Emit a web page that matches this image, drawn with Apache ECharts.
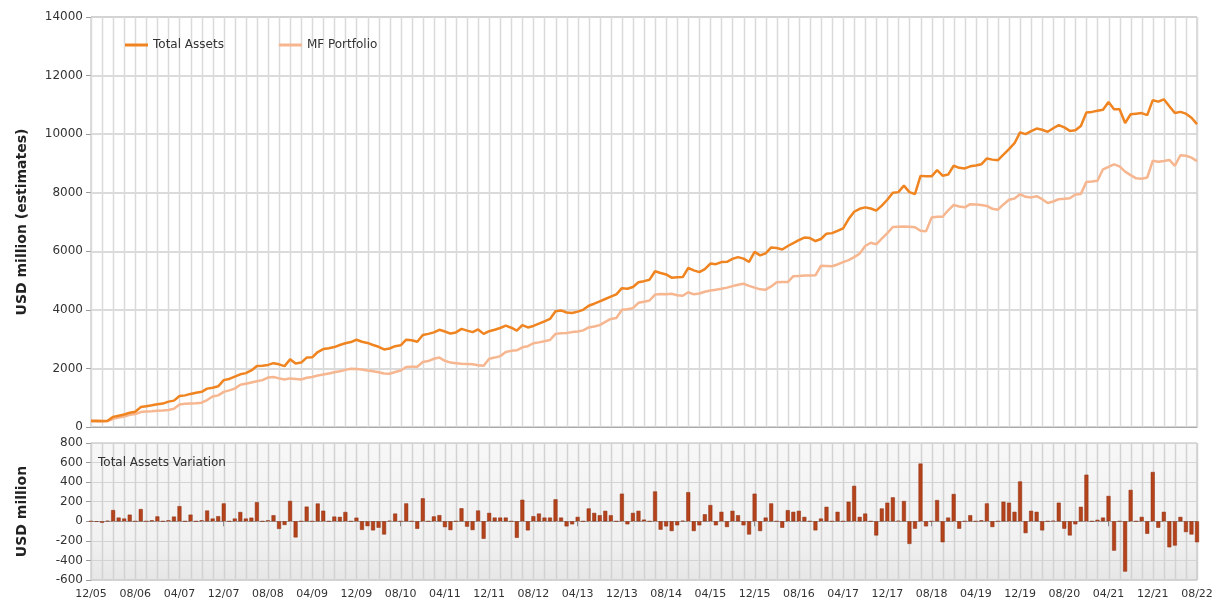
<!DOCTYPE html>
<html>
<head>
<meta charset="utf-8">
<script src="https://cdn.jsdelivr.net/npm/echarts@6/dist/echarts.min.js"></script>
<style>
  html, body { margin: 0; background: #fff; }
  #chart { width: 1220px; height: 606px; }
</style>
</head>
<body>
<div id="chart"></div>
<script>
// monthly, 12/05 .. 08/22
const months = [];
for (let y = 2005, m = 12; ; m++) {
  if (m > 12) { m = 1; y++; }
  if (y === 2022 && m > 8) break;
  months.push(String(m).padStart(2, '0') + '/' + String(y).slice(2));
}

const totalAssets = [
  210, 215, 205, 215, 345, 385, 425, 490, 520, 680,
  710, 740, 775, 800, 866, 900, 1060, 1080, 1130, 1170,
  1200, 1310, 1340, 1390, 1600, 1640, 1720, 1800, 1840, 1930,
  2080, 2090, 2120, 2180, 2140, 2080, 2310, 2170, 2200, 2370,
  2380, 2560, 2660, 2690, 2730, 2800, 2860, 2900, 2980, 2910,
  2870, 2800, 2740, 2650, 2680, 2760, 2790, 2980, 2960, 2910,
  3140, 3180, 3230, 3320, 3260, 3190, 3230, 3350, 3290, 3240,
  3330, 3180, 3270, 3320, 3380, 3460, 3390, 3290, 3480, 3400,
  3450, 3530, 3610, 3690, 3950, 3980, 3910, 3890, 3940, 4000,
  4140, 4210, 4290, 4370, 4450, 4530, 4740, 4720, 4780, 4940,
  4980, 5030, 5320, 5260, 5210, 5100, 5110, 5120, 5430, 5350,
  5290, 5390, 5580, 5560, 5630, 5640, 5740, 5800, 5750, 5640,
  5980, 5860, 5930, 6130, 6110, 6060, 6180, 6280, 6380, 6470,
  6450, 6350, 6420, 6600, 6620, 6700, 6780, 7100, 7350, 7450,
  7500, 7460, 7390, 7560, 7760, 8000, 8020, 8240, 8020, 7950,
  8575, 8560, 8560, 8770, 8580, 8620, 8920, 8850, 8830, 8900,
  8930, 8970, 9170, 9130, 9110, 9300, 9490, 9690, 10060, 10000,
  10100, 10190, 10150, 10080, 10200, 10310, 10230, 10110, 10130, 10280,
  10740, 10760, 10800, 10830, 11100, 10850, 10850, 10380, 10680, 10700,
  10720, 10650, 11160, 11110, 11190, 10950, 10720, 10760, 10700, 10560, 10340
];

const mfPortfolio = [
  190, 195, 190, 200, 280, 320, 360, 420, 440, 510,
  530, 540, 555, 565, 580, 620, 770, 790, 800, 810,
  830, 920, 1040, 1080, 1200, 1250, 1310, 1440, 1480, 1520,
  1560, 1600, 1690, 1710, 1660, 1620, 1660, 1640, 1620, 1680,
  1710, 1760, 1790, 1830, 1870, 1900, 1950, 1990, 1980, 1960,
  1930, 1900, 1870, 1830, 1820, 1880, 1930, 2050, 2060, 2060,
  2220, 2250, 2330, 2370, 2260, 2200, 2180, 2160, 2150, 2140,
  2110, 2090, 2330, 2370, 2420, 2560, 2600, 2620, 2720, 2760,
  2860, 2890, 2930, 2970, 3180, 3200, 3210, 3240, 3260, 3300,
  3400, 3430, 3480, 3590, 3690, 3720, 4000, 4020, 4060, 4240,
  4280, 4320, 4520, 4540, 4530, 4550, 4500, 4480, 4600, 4530,
  4560, 4620, 4660, 4690, 4720, 4760, 4810, 4860, 4890, 4820,
  4760, 4700, 4690, 4800, 4940, 4950, 4950, 5150, 5160, 5170,
  5170, 5180, 5510, 5500, 5490, 5550, 5630, 5700, 5800, 5920,
  6180, 6290, 6240, 6430, 6620, 6830, 6840, 6850, 6840, 6820,
  6700, 6680, 7150, 7180, 7180, 7400, 7580, 7530, 7500, 7610,
  7600, 7580, 7550, 7450, 7420, 7600, 7760, 7800, 7950, 7860,
  7840, 7880, 7780, 7650, 7700, 7780, 7790, 7810, 7940, 7960,
  8370, 8380, 8410, 8800, 8880, 8970, 8900, 8720, 8600, 8490,
  8480, 8520, 9090, 9060, 9080, 9120, 8920, 9280, 9260, 9200, 9080
];

const variation = [
  0, -5, -15, 5, 115, 38, 28, 68, 0, 125,
  0, 10, 50, 0, 10, 48, 155, 0, 68, 0,
  10, 110, 28, 52, 183, 0, 28, 95, 28, 37,
  195, 0, 10, 62, -78, -38, 208, -165, 0, 150,
  0, 182, 108, 0, 48, 45, 95, 0, 37, -88,
  -50, -93, -66, -135, 5, 79, 0, 183, 0, -77,
  235, 0, 50, 63, -60, -90, 0, 133, -55, -90,
  110, -179, 86, 38, 38, 38, 0, -169, 220, -93,
  52, 79, 38, 38, 225, 38, -52, -31, 45, 0,
  131, 86, 62, 107, 62, 0, 282, -31, 86, 107,
  17, 0, 305, -86, -52, -100, -41, 5, 298, -100,
  -41, 72, 166, -41, 97, -59, 107, 62, -41, -135,
  282, -100, 38, 183, 0, -66, 114, 97, 107, 45,
  0, -93, 28, 148, 0, 97, 0, 200, 362, 45,
  79, 0, -145, 131, 190, 245, 5, 207, -231, -76,
  590, -52, 0, 217, -214, 38, 279, -76, 0, 62,
  0, 10, 183, -59, 0, 200, 190, 97, 407, -121,
  107, 97, -93, 0, 5, 190, -76, -145, -31, 148,
  476, 0, 15, 38, 259, -300, 0, -514, 321, 0,
  45, -128, 504, -66, 97, -266, -248, 45, -110, -135, -214
];

const font = 'DejaVu Sans';
const chart = echarts.init(document.getElementById('chart'), null, { renderer: 'canvas' });

// vertical grid every 2 months, drawn as a custom series behind the data
const gridMonths = months.map((m, i) => [i, 0]).filter(d => d[0] % 2 === 0);
function monthLines(axisIndex, color) {
  return {
    type: 'custom', xAxisIndex: axisIndex, yAxisIndex: axisIndex, z: 1, silent: true,
    data: gridMonths, clip: false,
    encode: { x: 0, y: 1 },
    renderItem: (params, api) => {
      const cs = params.coordSys;
      const x = Math.round(api.coord([api.value(0), 0])[0]) + 0.5;
      return {
        type: 'line', silent: true,
        shape: { x1: x, y1: cs.y, x2: x, y2: cs.y + cs.height },
        style: { stroke: color, lineWidth: 1.5 }
      };
    }
  };
}

chart.setOption({
  animation: false,
  backgroundColor: '#fff',
  textStyle: { fontFamily: font },
  title: {
    text: 'Total Assets Variation',
    left: 93,
    top: 452,
    textStyle: { fontFamily: font, fontSize: 12, fontWeight: 'normal', color: '#333' }
  },
  legend: {
    left: 120,
    top: 34,
    icon: 'rect',
    itemWidth: 23,
    itemHeight: 3,
    itemGap: 55,
    textStyle: { fontFamily: font, fontSize: 12, color: '#333' },
    data: ['Total Assets', 'MF Portfolio']
  },
  grid: [
    { left: 91, right: 23, top: 17, height: 410, show: true, borderColor: '#bbb', backgroundColor: '#fff' },
    {
      left: 91, right: 23, top: 443, height: 137, show: true, borderColor: '#bbb',
      backgroundColor: {
        type: 'linear', x: 0, y: 0, x2: 0, y2: 1,
        colorStops: [{ offset: 0, color: '#f7f7f7' }, { offset: 0.7, color: '#f1f1f1' }, { offset: 1, color: '#e6e6e6' }]
      }
    }
  ],
  xAxis: [
    {
      type: 'category', gridIndex: 0, data: months, boundaryGap: false,
      axisLine: { lineStyle: { color: '#aaa' } },
      axisTick: { show: false },
      axisLabel: { show: false },
      splitLine: { show: false }
    },
    {
      type: 'category', gridIndex: 1, data: months, boundaryGap: false,
      axisLine: { lineStyle: { color: '#999' } },
      axisTick: { show: true, interval: 7, length: 5, lineStyle: { color: '#777' } },
      axisLabel: { interval: 7, fontFamily: font, fontSize: 11, color: '#333', margin: 9 },
      splitLine: { show: false }
    }
  ],
  yAxis: [
    {
      type: 'value', gridIndex: 0, min: 0, max: 14000, interval: 2000,
      name: 'USD million (estimates)', nameLocation: 'middle', nameGap: 62,
      nameTextStyle: { fontFamily: font, fontSize: 14, fontWeight: 'bold', color: '#222' },
      axisLine: { show: true, lineStyle: { color: '#aaa' } },
      axisTick: { show: true, length: 5, lineStyle: { color: '#999' } },
      axisLabel: { fontFamily: font, fontSize: 12, color: '#333', margin: 8, formatter: v => String(v) },
      splitLine: { lineStyle: { color: '#cfcfcf', width: 1.5 } }
    },
    {
      type: 'value', gridIndex: 1, min: -600, max: 800, interval: 200,
      name: 'USD million', nameLocation: 'middle', nameGap: 62,
      nameTextStyle: { fontFamily: font, fontSize: 14, fontWeight: 'bold', color: '#222' },
      axisLine: { show: true, lineStyle: { color: '#aaa' } },
      axisTick: { show: true, length: 5, lineStyle: { color: '#999' } },
      axisLabel: { fontFamily: font, fontSize: 12, color: '#333', margin: 8, formatter: v => String(v) },
      splitLine: { lineStyle: { color: '#d4d4d4', width: 1 } }
    }
  ],
  series: [
    monthLines(0, '#dadada'),
    monthLines(1, '#d2d2d2'),
    {
      name: 'MF Portfolio', type: 'line', xAxisIndex: 0, yAxisIndex: 0, z: 3,
      data: mfPortfolio, showSymbol: false, symbol: 'none',
      lineStyle: { color: '#f6b690', width: 2.5 }, itemStyle: { color: '#f6b690' }
    },
    {
      name: 'Total Assets', type: 'line', xAxisIndex: 0, yAxisIndex: 0, z: 4,
      data: totalAssets, showSymbol: false, symbol: 'none',
      lineStyle: { color: '#ef8420', width: 2.5 }, itemStyle: { color: '#ef8420' }
    },
    {
      name: 'Total Assets Variation', type: 'bar', xAxisIndex: 1, yAxisIndex: 1, z: 3,
      data: variation, barWidth: 4,
      itemStyle: { color: '#b4431c', borderColor: '#8e3012', borderWidth: 0.5 }
    }
  ]
});
</script>
</body>
</html>
